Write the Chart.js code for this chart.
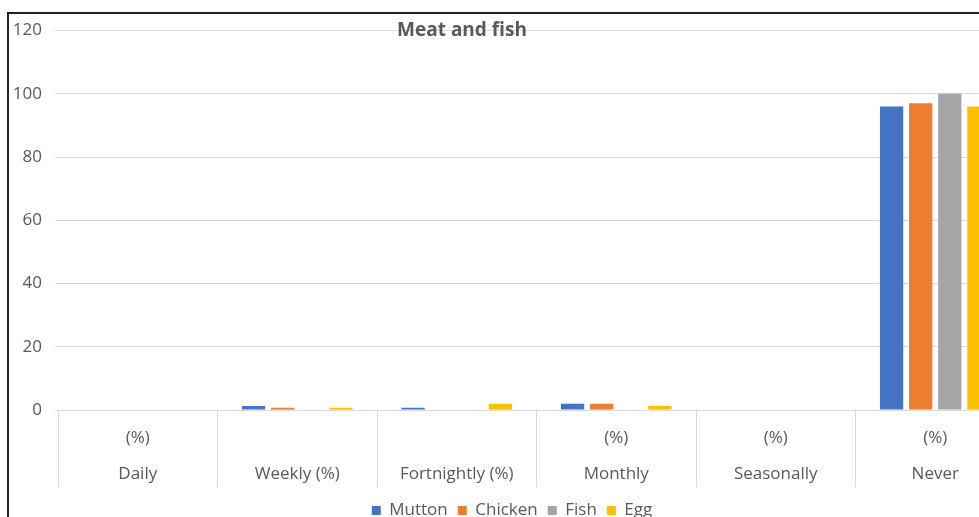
<!DOCTYPE html>
<html>
<head>
<meta charset="utf-8">
<script src="https://cdn.jsdelivr.net/npm/chart.js@4.4.1/dist/chart.umd.min.js"></script>
<style>
  html, body { margin: 0; padding: 0; background: #fff; overflow: hidden; width: 979px; height: 517px; }
  #frame { position: absolute; left: 7px; top: 12px; border-left: 2px solid #222; border-top: 2px solid #222; width: 1040px; height: 530px; }
  #wrap { position: absolute; left: 0; top: -5px; width: 1018px; height: 520px; }
  #title { position: absolute; left: 342px; top: 16px; width: 240px; text-align: center;
           font: bold 19px "Open Sans", Lato, sans-serif; color: #595959; }
</style>
</head>
<body>
<div id="frame"><div id="wrap"><canvas id="chart"></canvas></div></div>
<div id="title">Meat and fish</div>
<script>
// categories (two-level labels as in the original axis)
const categories = [
    ['(%)', 'Daily'],
    ['', 'Weekly (%)'],
    ['', 'Fortnightly (%)'],
    ['(%)', 'Monthly'],
    ['(%)', 'Seasonally'],
    ['(%)', 'Never']
];
const mutton = [0, 1.3, 0.7, 2, 0, 96];
const chicken = [0, 0.7, 0, 2, 0, 97];
const fish = [0, 0, 0, 0, 0, 100];
const egg = [0, 0.7, 2, 1.3, 0, 96];
const yTicks = [0, 20, 40, 60, 80, 100, 120];

const grey = '#595959';
const gridCol = '#d9d9d9';
const fontFam = '"Open Sans", Lato, sans-serif';

const ctx = document.getElementById('chart').getContext('2d');
new Chart(ctx, {
    type: 'bar',
    data: {
        labels: categories,
        datasets: [
            { label: 'Mutton', data: mutton, backgroundColor: '#4472C4' },
            { label: 'Chicken', data: chicken, backgroundColor: '#ED7D31' },
            { label: 'Fish', data: fish, backgroundColor: '#A5A5A5' },
            { label: 'Egg', data: egg, backgroundColor: '#FFC000' }
        ]
    },
    options: {
        responsive: true,
        maintainAspectRatio: false,
        animation: false,
        categoryPercentage: 0.73,
        barPercentage: 0.8,
        layout: { padding: { top: 0, right: 12, left: 0, bottom: 0 } },
        plugins: {
            title: { display: false },
            tooltip: { enabled: false },
            legend: {
                position: 'bottom',
                labels: {
                    boxWidth: 9, boxHeight: 9, padding: 10,
                    color: grey,
                    font: { family: fontFam, size: 17 }
                }
            }
        },
        scales: {
            y: {
                min: 0, max: 120,
                afterFit: (axis) => { axis.width = 49; },
                afterBuildTicks: (axis) => { axis.ticks = yTicks.map(v => ({ value: v })); },
                grid: { color: gridCol, drawTicks: true, tickLength: 3, tickColor: gridCol },
                border: { display: false },
                ticks: { color: grey, padding: 13, font: { family: fontFam, size: 17, lineHeight: 1 } }
            },
            x: {
                afterFit: (axis) => { axis.height = 82; },
                grid: { offset: true, drawOnChartArea: false, color: gridCol, tickLength: 77 },
                border: { display: true, color: gridCol },
                ticks: {
                    color: grey, padding: -67, maxRotation: 0, autoSkip: false,
                    font: { family: fontFam, size: 17, lineHeight: 2.12 }
                }
            }
        }
    }
});
</script>
</body>
</html>
